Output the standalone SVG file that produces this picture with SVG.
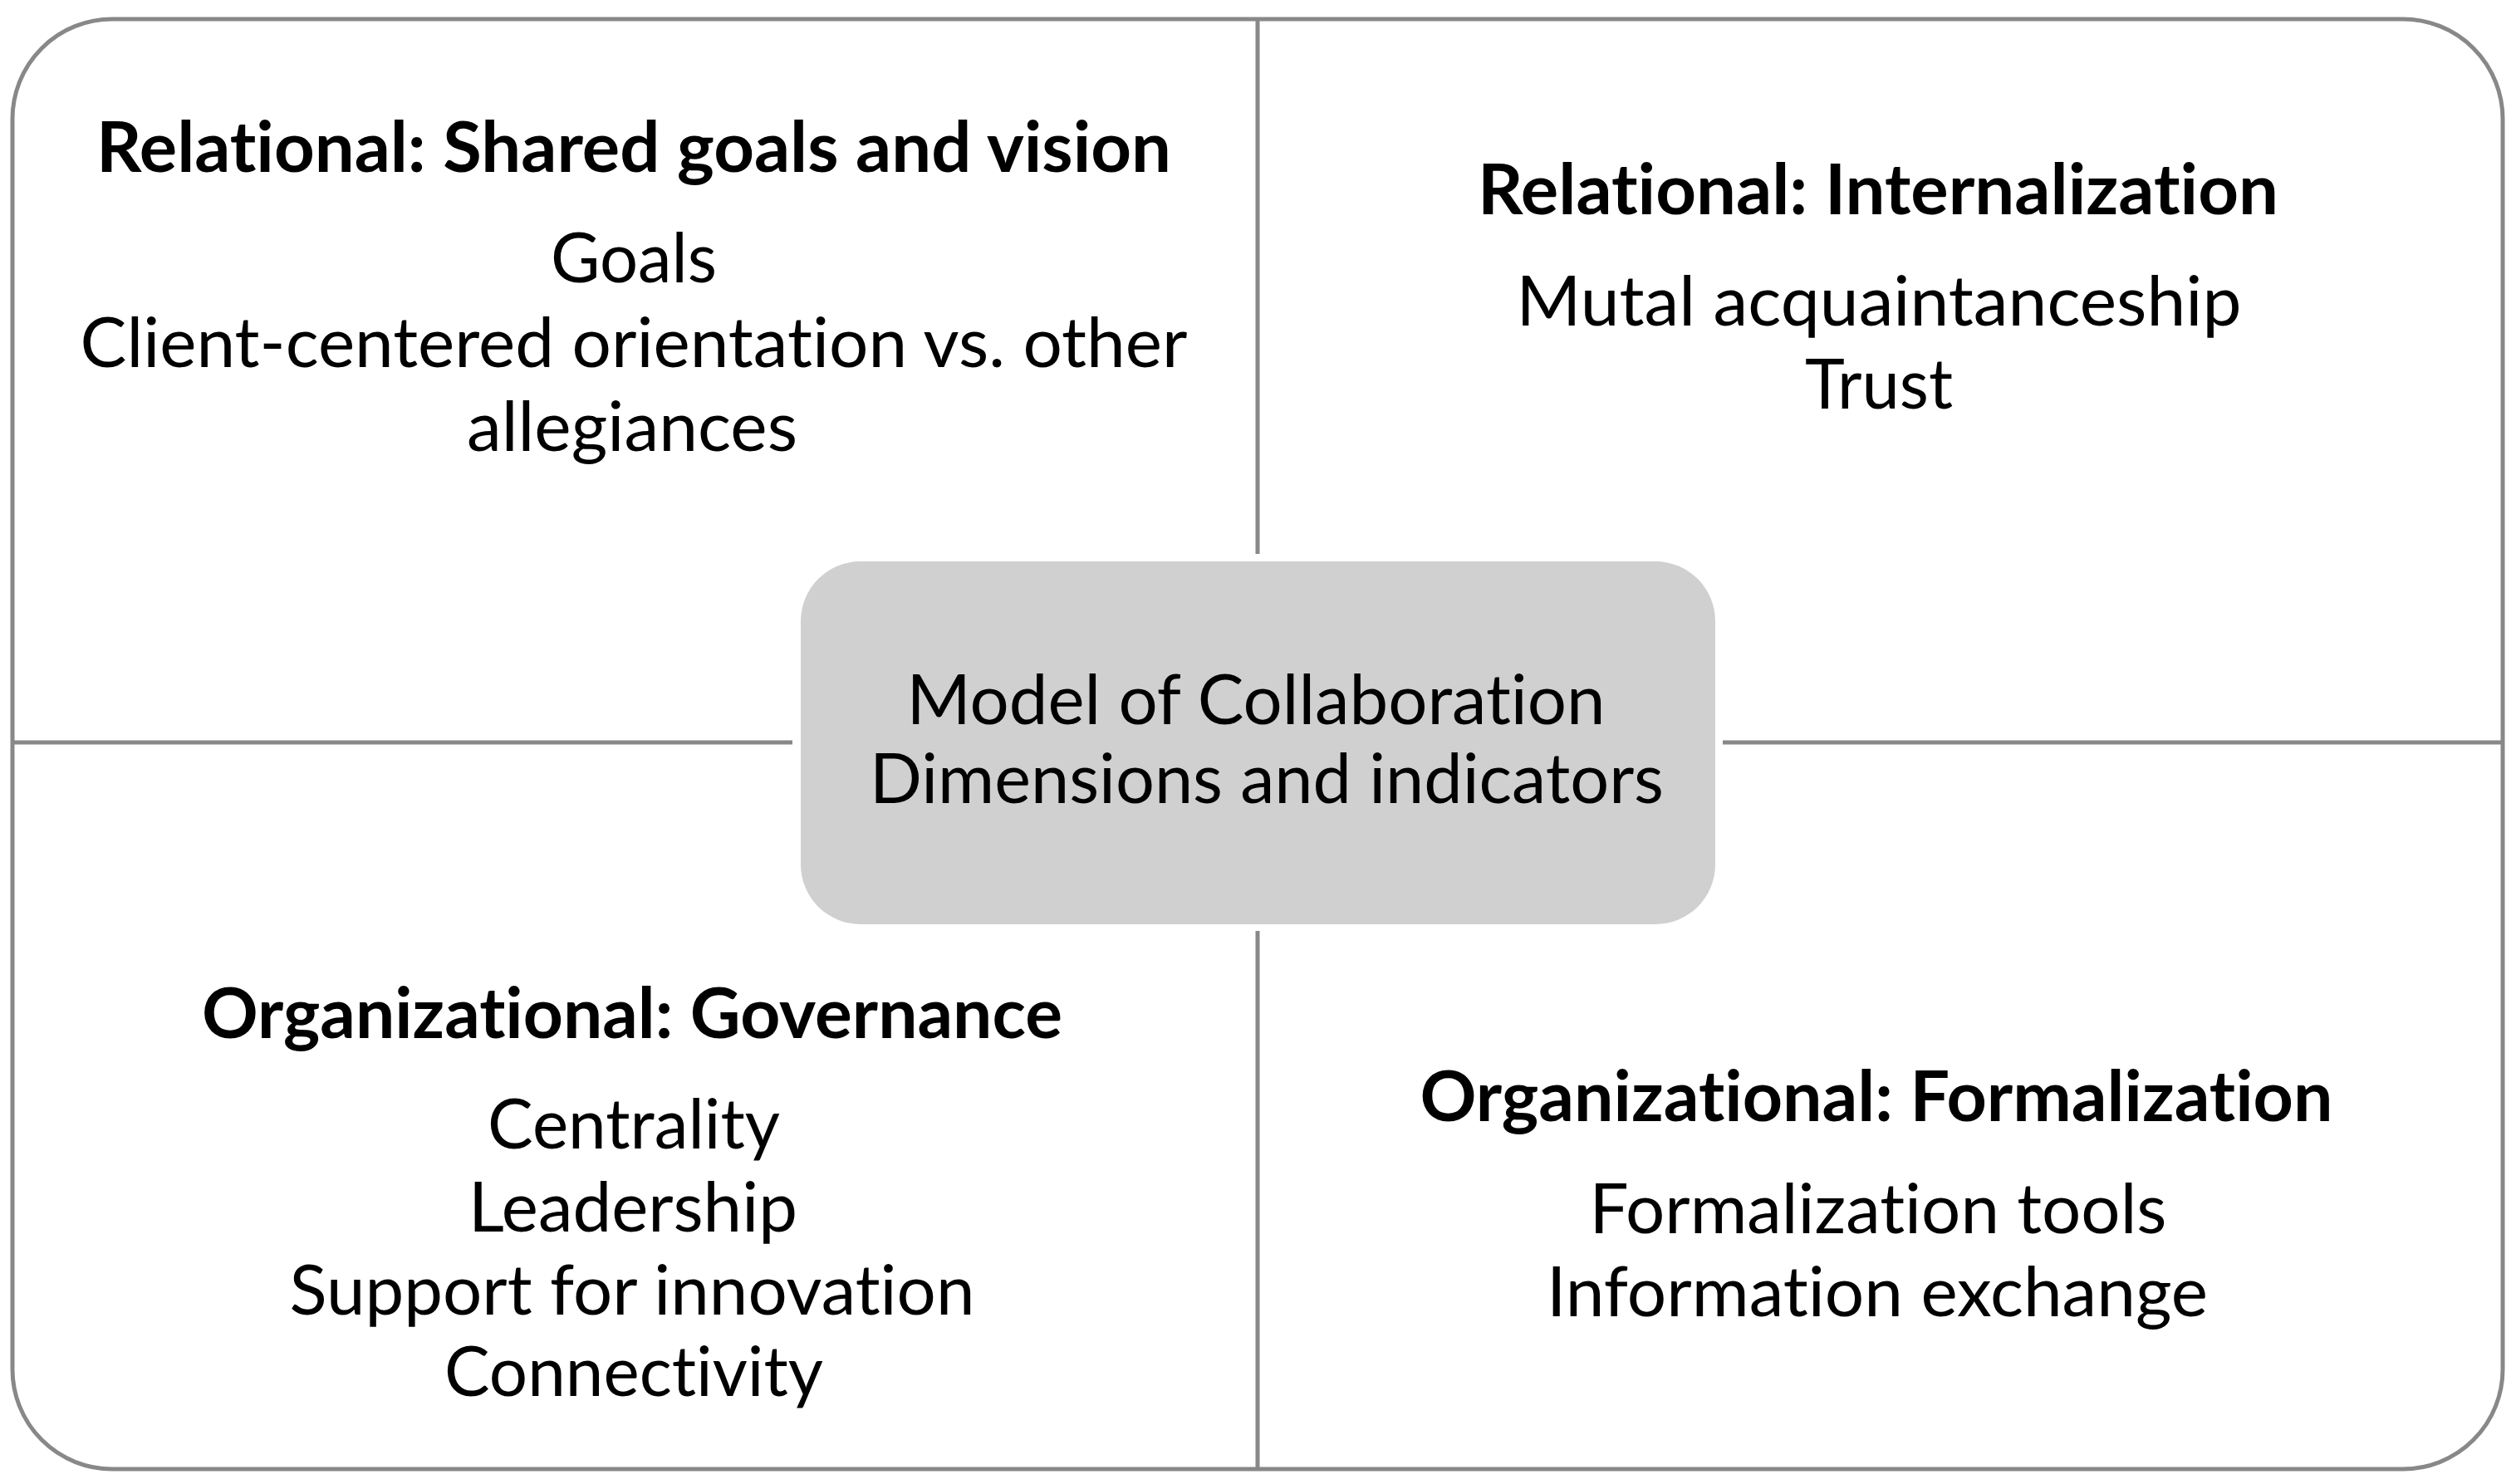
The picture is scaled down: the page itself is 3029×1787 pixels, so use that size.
<svg xmlns="http://www.w3.org/2000/svg" width="3029" height="1787" viewBox="0 0 3029 1787">
<style>
.t{font-family:Lato,"Open Sans","Liberation Sans",sans-serif;font-size:84px;fill:#000;text-anchor:middle;font-variant-ligatures:none;font-feature-settings:"liga" 0,"dlig" 0,"clig" 0}
.b{font-weight:700}
.ln{stroke:#888;stroke-width:5;fill:none}
</style>
<rect x="0" y="0" width="3029" height="1787" fill="#fff"/>
<g id="frame">
<rect class="ln" x="15" y="23" width="2998" height="1746" rx="120" ry="120"/>
</g>
<g id="connectors">
<line class="ln" x1="1514" y1="23" x2="1514" y2="667"/>
<line class="ln" x1="1514" y1="1121" x2="1514" y2="1769"/>
<line class="ln" x1="15" y1="894" x2="954" y2="894"/>
<line class="ln" x1="2074" y1="894" x2="3013" y2="894"/>
</g>
<g id="center">
<rect x="964" y="676" width="1101" height="437" rx="72" ry="72" fill="#d0d0d0"/>
<text class="t" x="1512" y="872" textLength="841" lengthAdjust="spacingAndGlyphs">Model of Collaboration</text>
<text class="t" x="1525" y="967" textLength="956" lengthAdjust="spacingAndGlyphs">Dimensions and indicators</text>
</g>
<g id="shared-goals">
<text class="t b" x="763" y="207" textLength="1294" lengthAdjust="spacingAndGlyphs">Relational: Shared goals and vision</text>
<text class="t" x="763" y="340" textLength="200" lengthAdjust="spacingAndGlyphs">Goals</text>
<text class="t" x="763" y="442" textLength="1333" lengthAdjust="spacingAndGlyphs">Client-centered orientation vs. other</text>
<text class="t" x="761" y="543" textLength="398" lengthAdjust="spacingAndGlyphs">allegiances</text>
</g>
<g id="internalization">
<text class="t b" x="2261" y="258" textLength="964" lengthAdjust="spacingAndGlyphs">Relational: Internalization</text>
<text class="t" x="2262" y="392" textLength="873" lengthAdjust="spacingAndGlyphs">Mutal acquaintanceship</text>
<text class="t" x="2262" y="492" textLength="178" lengthAdjust="spacingAndGlyphs">Trust</text>
</g>
<g id="governance">
<text class="t b" x="761" y="1250" textLength="1036" lengthAdjust="spacingAndGlyphs">Organizational: Governance</text>
<text class="t" x="763" y="1383" textLength="352" lengthAdjust="spacingAndGlyphs">Centrality</text>
<text class="t" x="762" y="1483" textLength="396" lengthAdjust="spacingAndGlyphs">Leadership</text>
<text class="t" x="761" y="1583" textLength="825" lengthAdjust="spacingAndGlyphs">Support for innovation</text>
<text class="t" x="763" y="1681" textLength="456" lengthAdjust="spacingAndGlyphs">Connectivity</text>
</g>
<g id="formalization">
<text class="t b" x="2259" y="1350" textLength="1099" lengthAdjust="spacingAndGlyphs">Organizational: Formalization</text>
<text class="t" x="2261" y="1485" textLength="695" lengthAdjust="spacingAndGlyphs">Formalization tools</text>
<text class="t" x="2260" y="1585" textLength="796" lengthAdjust="spacingAndGlyphs">Information exchange</text>
</g>
</svg>
